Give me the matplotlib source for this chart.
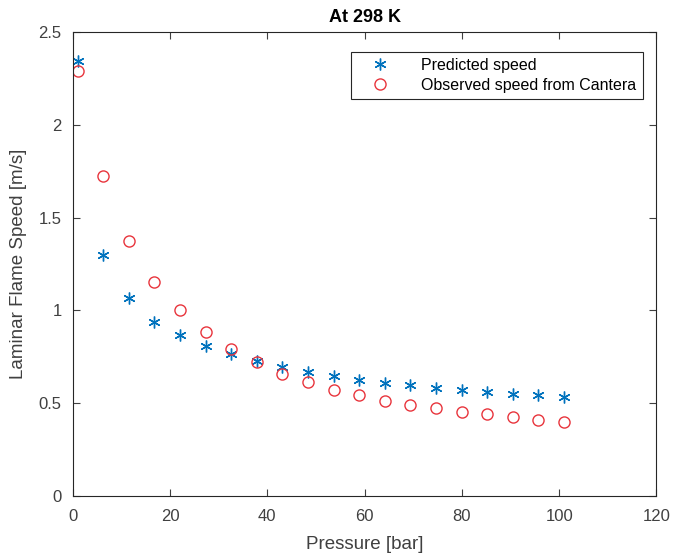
import matplotlib
matplotlib.use('Agg')
from matplotlib import pyplot as plt

plt.rcParams['font.family'] = ['Liberation Sans', 'DejaVu Sans']

# pressure in bar
pressure = [1.0, 6.26, 11.53, 16.79, 22.05, 27.32, 32.58, 37.84, 43.11, 48.37,
            53.63, 58.89, 64.16, 69.42, 74.68, 79.95, 85.21, 90.47, 95.74, 101.0]

# laminar flame speed in m/s
predicted = [2.344, 1.298, 1.065, 0.940, 0.865, 0.808, 0.765, 0.727, 0.695, 0.668,
             0.645, 0.625, 0.609, 0.596, 0.582, 0.570, 0.560, 0.552, 0.542, 0.532]
observed = [2.292, 1.722, 1.374, 1.153, 1.000, 0.884, 0.790, 0.722, 0.660, 0.612,
            0.572, 0.542, 0.514, 0.492, 0.472, 0.455, 0.440, 0.425, 0.410, 0.398]

xticks = [0, 20, 40, 60, 80, 100, 120]
yticks = [0, 0.5, 1, 1.5, 2, 2.5]
yticklabels = ['0', '0.5', '1', '1.5', '2', '2.5']

fig = plt.figure(figsize=(6.74, 5.57), dpi=100)
ax = fig.add_axes([0.108, 0.1095, 0.866, 0.833])

ax.plot(pressure, predicted, linestyle='none', marker=(6, 2, 0), markersize=8.5,
        markeredgewidth=1.0, color='#0072BD', label='Predicted speed')
ax.plot(pressure, observed, linestyle='none', marker='o', markersize=8,
        markerfacecolor='none', markeredgewidth=1.0, color='#E8343C',
        label='Observed speed from Cantera')

ax.set_xlim(0, 120)
ax.set_ylim(0, 2.5)
ax.set_xticks(xticks)
ax.set_yticks(yticks)
ax.set_yticklabels(yticklabels)
ax.tick_params(direction='in', top=True, right=True, labelsize=12,
               colors='#404040', length=5, width=0.8)
ax.tick_params(axis='x', pad=9)
ax.tick_params(axis='y', pad=8)
for s in ax.spines.values():
    s.set_color('#262626')
    s.set_linewidth(0.8)

ax.set_xlabel('Pressure [bar]', fontsize=13.5, color='#404040', labelpad=9)
ax.set_ylabel('Laminar Flame Speed [m/s]', fontsize=13.5, color='#404040', labelpad=8)
ax.set_title('At 298 K', fontsize=13, fontweight='bold', color='#000000', pad=7)

leg = ax.legend(loc='upper right', bbox_to_anchor=(0.99, 0.975), fontsize=11.5,
                fancybox=False, edgecolor='#262626', framealpha=1,
                borderpad=0.4, handletextpad=1.2, labelspacing=0.3,
                handlelength=2.8)
leg.get_frame().set_linewidth(0.8)

fig.savefig('out.png', dpi=100)
